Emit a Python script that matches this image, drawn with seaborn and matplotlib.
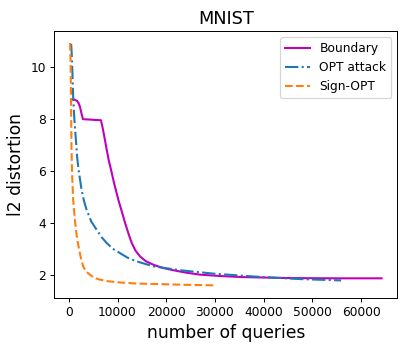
import matplotlib
matplotlib.use("Agg")
import matplotlib.pyplot as plt
import seaborn as sns

# Values
boundary_q = [450, 1200, 1700, 2000, 2300, 2600, 2900, 4000, 5500, 6600, 7000,
              7400, 7770, 8200, 8660, 9280, 10170, 11000, 11550, 12300, 12920,
              13700, 14640, 15800, 17390, 19300, 21500, 24000, 27000, 31000,
              35250, 45000, 55000, 64200]
boundary_d = [8.75, 8.73, 8.68, 8.6, 8.45, 8.2, 7.98, 7.97, 7.95, 7.94, 7.6,
              7.2, 6.81, 6.4, 6.04, 5.53, 4.88, 4.35, 3.99, 3.55, 3.22,
              2.92, 2.70, 2.52, 2.38, 2.26, 2.17, 2.08, 2.0, 1.95,
              1.91, 1.87, 1.86, 1.86]

opt_q = [470, 600, 750, 890, 1100, 1370, 1720, 2000, 2610, 3100, 3640, 4600,
         5700, 6700, 7770, 9000, 10500, 12000, 13950, 17390, 22900, 29750,
         38000, 47600, 55900]
opt_d = [10.88, 10.5, 9.7, 8.86, 8.1, 7.4, 6.5, 6.04, 5.27, 4.85, 4.5, 4.05,
         3.73, 3.45, 3.22, 3.0, 2.83, 2.66, 2.51, 2.32, 2.17, 2.04,
         1.93, 1.83, 1.78]

sign_q = [250, 350, 420, 500, 550, 690, 890, 1300, 1720, 2130, 2500, 2950,
          3500, 4330, 5200, 6390, 8000, 10500, 14000, 18080, 24000, 30100]
sign_d = [10.91, 10.3, 9.3, 7.8, 6.81, 5.78, 4.88, 4.0, 3.35, 2.96, 2.62, 2.32,
          2.13, 2.0, 1.88, 1.81, 1.75, 1.70, 1.66, 1.64, 1.61, 1.59]

# reference looks like a slightly downscaled render, so use a lower dpi
dpi = 88
fig = plt.figure(figsize=(406 / dpi, 349 / dpi), dpi=dpi)
ax = fig.add_axes([0.134, 0.147, 0.845, 0.764])

sns.lineplot(x=boundary_q, y=boundary_d, color="m", linestyle="-",
             linewidth=1.7, label="Boundary", ax=ax)
sns.lineplot(x=opt_q, y=opt_d, color="#1f77b4", linestyle="-.",
             linewidth=1.7, label="OPT attack", ax=ax)
sns.lineplot(x=sign_q, y=sign_d, color="#ff7f0e", linestyle="--",
             linewidth=1.7, label="Sign-OPT", ax=ax)

ax.set_xlim(-2960, 67470)
ax.set_ylim(1.115, 11.37)
ax.set_xticks(range(0, 60001, 10000))
ax.set_yticks([2, 4, 6, 8, 10])
ax.set_title("MNIST", fontsize=14.5)
ax.set_xlabel("number of queries", fontsize=14)
ax.set_ylabel("l2 distortion", fontsize=14)
ax.legend(loc="upper right")

fig.savefig("out.png", dpi=dpi)
plt.close(fig)
